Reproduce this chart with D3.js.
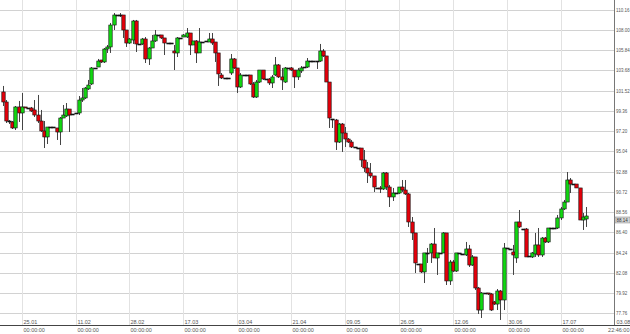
<!DOCTYPE html>
<html lang="en">

<head>
    <meta charset="UTF-8" />
    <title>Daily candles</title>
    <style>
        body {
            margin: 0;
            background: #fff;
        }

        svg {
            display: block;
            font-family: "Liberation Sans", Arial, sans-serif;
        }
    </style>
</head>

<body>
    <svg></svg>
    <script src="https://d3js.org/d3.v7.min.js"></script>
    <script>
        const width = 630;
        const height = 334;

        // tick labels
        const dateTicks = [6, 23, 40, 57, 74, 91, 108, 125, 142, 159, 176, 193];
        const dateLabels = ["25.01", "11.02", "28.02", "17.03", "03.04", "21.04", "09.05", "26.05", "12.06", "30.06", "17.07", "03.08"];
        const timeLabels = ["00:00:00", "00:00:00", "00:00:00", "00:00:00", "00:00:00", "00:00:00", "00:00:00", "00:00:00", "00:00:00", "00:00:00", "00:00:00", "22:46:00"];
        const priceTicks = [77.76, 79.92, 82.08, 84.24, 86.40, 88.56, 90.72, 92.88, 95.04, 97.20, 99.36, 101.52, 103.68, 105.84, 108.00, 110.16];

        // one candle per day
        const opens = [
            101.37, 100.30, 98.27, 98.17, 97.53, 99.77, 99.13, 99.77, 99.66, 99.66,
            99.45, 98.91, 98.27, 97.21, 96.57, 97.63, 97.63, 97.53, 97.10, 98.59,
            98.81, 99.55, 99.02, 99.13, 99.13, 100.51, 100.73, 101.69, 102.22, 103.93,
            104.03, 104.78, 104.57, 105.95, 106.17, 108.51, 109.58, 109.58, 109.58, 107.98,
            106.59, 106.91, 108.94, 106.49, 106.49, 107.02, 104.89, 106.06, 106.81, 107.45,
            107.45, 107.13, 106.59, 106.59, 105.74, 105.53, 107.13, 107.23, 107.23, 107.66,
            106.38, 106.81, 105.53, 106.70, 106.81, 106.70, 107.02, 106.70, 105.53, 103.18,
            102.86, 102.86, 103.39, 104.89, 103.93, 101.90, 103.18, 103.18, 103.18, 102.22,
            100.83, 102.43, 103.71, 102.75, 102.75, 102.33, 103.18, 104.25, 102.97, 102.43,
            103.93, 103.93, 103.71, 102.97, 103.61, 104.03, 104.03, 104.67, 104.67, 104.67,
            104.67, 105.74, 105.21, 102.43, 98.49, 98.38, 96.03, 97.95, 96.99, 96.35,
            96.03, 95.50, 95.39, 95.39, 94.11, 93.26, 92.73, 92.41, 91.13, 91.13,
            91.02, 92.73, 91.23, 90.17, 90.59, 90.59, 91.23, 90.91, 90.49, 87.50,
            86.33, 83.02, 83.02, 82.17, 84.20, 84.20, 85.15, 83.66, 84.20, 84.20,
            86.33, 81.21, 83.23, 82.27, 84.20, 84.09, 83.98, 84.62, 82.91, 83.77,
            80.46, 78.11, 79.93, 79.93, 79.82, 78.97, 78.75, 80.14, 79.18, 84.73,
            84.62, 84.30, 83.66, 87.50, 86.75, 86.75, 83.87, 83.77, 84.09, 85.05,
            83.98, 85.79, 85.37, 86.86, 86.86, 86.86, 87.93, 88.89, 89.63, 91.98,
            91.55, 91.55, 91.13, 87.71, 87.82
        ];
        const highs = [
            102.01, 100.51, 98.38, 98.27, 99.87, 100.41, 101.26, 99.77, 99.66, 99.77,
            100.51, 101.05, 99.45, 98.27, 97.63, 97.63, 97.63, 97.53, 98.70, 99.98,
            100.19, 99.55, 99.02, 99.13, 100.94, 101.79, 101.90, 102.65, 104.03, 103.93,
            104.89, 104.78, 106.06, 106.38, 108.73, 109.79, 109.58, 109.79, 109.58, 107.98,
            107.13, 109.05, 109.05, 106.49, 107.13, 107.23, 106.17, 107.45, 107.98, 107.45,
            107.45, 107.13, 106.59, 106.59, 106.38, 107.23, 107.13, 107.55, 108.19, 107.66,
            106.81, 106.91, 108.19, 106.70, 106.81, 107.66, 107.66, 106.70, 105.53, 103.39,
            102.86, 102.86, 105.42, 104.99, 103.93, 103.39, 103.18, 103.18, 103.18, 102.43,
            102.65, 103.71, 103.71, 102.75, 102.86, 103.18, 105.10, 104.35, 103.93, 104.03,
            103.93, 104.03, 103.71, 103.93, 104.14, 104.03, 104.99, 104.67, 104.67, 104.67,
            106.49, 105.95, 105.21, 102.43, 98.49, 98.49, 98.06, 98.06, 97.63, 96.46,
            96.25, 95.50, 95.39, 95.39, 95.18, 93.90, 93.79, 92.41, 91.13, 91.34,
            92.83, 92.83, 91.45, 91.13, 90.59, 91.23, 91.98, 91.98, 90.59, 88.03,
            86.33, 83.02, 83.02, 84.20, 84.73, 85.26, 86.86, 84.20, 84.20, 86.43,
            86.33, 83.45, 83.45, 84.20, 84.20, 84.09, 85.37, 85.05, 83.98, 83.77,
            80.57, 80.03, 79.93, 79.93, 79.93, 79.07, 80.35, 80.25, 85.26, 84.73,
            84.62, 85.05, 87.50, 88.78, 86.75, 86.86, 83.87, 84.30, 86.33, 86.86,
            85.90, 85.90, 86.86, 86.86, 86.86, 88.25, 89.10, 89.85, 92.83, 92.19,
            91.55, 91.55, 91.13, 88.46, 89.10
        ];
        const lows = [
            99.87, 98.06, 97.95, 97.42, 97.31, 98.17, 97.31, 99.66, 99.66, 99.23,
            98.70, 98.06, 97.10, 95.39, 95.82, 97.63, 97.63, 96.25, 95.71, 98.59,
            98.70, 97.10, 99.02, 99.13, 98.91, 100.30, 100.62, 101.58, 102.11, 103.93,
            104.03, 104.46, 104.46, 105.53, 105.53, 107.98, 109.58, 109.37, 107.13, 106.17,
            106.49, 106.49, 105.63, 106.49, 106.38, 104.46, 104.25, 106.06, 106.70, 107.45,
            107.02, 105.31, 106.59, 106.59, 103.71, 105.10, 107.13, 107.23, 107.13, 105.31,
            106.38, 104.46, 105.53, 106.70, 106.81, 106.70, 106.38, 104.57, 102.01, 102.75,
            102.86, 102.86, 103.18, 103.82, 101.26, 101.79, 103.18, 103.18, 102.11, 100.73,
            100.73, 102.33, 102.65, 102.75, 102.11, 101.79, 103.07, 102.86, 101.58, 102.33,
            103.93, 103.61, 101.79, 102.65, 103.39, 104.03, 103.93, 104.67, 104.67, 103.82,
            104.57, 105.10, 102.43, 97.53, 97.53, 95.18, 95.93, 94.97, 95.50, 95.93,
            95.39, 95.50, 95.39, 93.37, 92.83, 91.66, 92.19, 90.70, 91.13, 90.59,
            90.91, 90.91, 89.10, 89.74, 90.59, 90.49, 90.70, 90.38, 86.97, 85.58,
            82.06, 83.02, 82.06, 80.99, 83.13, 83.13, 83.66, 81.85, 84.20, 84.20,
            80.78, 80.78, 82.17, 82.17, 84.20, 84.09, 83.87, 82.70, 82.81, 80.25,
            77.69, 77.26, 79.93, 79.71, 78.01, 78.65, 78.11, 77.05, 78.11, 84.73,
            84.62, 81.85, 83.13, 86.86, 86.75, 83.77, 83.87, 83.66, 83.77, 83.77,
            83.77, 85.26, 85.26, 86.86, 86.86, 86.75, 87.71, 88.78, 89.63, 90.59,
            91.55, 91.13, 87.71, 86.65, 86.97
        ];
        const closes = [
            100.30, 98.27, 98.17, 97.53, 99.77, 99.13, 99.77, 99.66, 99.66, 99.34,
            98.91, 98.27, 97.21, 96.57, 97.63, 97.63, 97.63, 97.10, 98.59, 98.91,
            99.55, 98.91, 99.02, 99.13, 100.51, 100.73, 101.79, 102.11, 103.93, 103.93,
            104.67, 104.57, 105.95, 106.17, 108.51, 109.58, 109.58, 109.58, 107.98, 106.59,
            107.02, 108.94, 106.49, 106.49, 107.02, 104.89, 106.06, 106.81, 107.45, 107.45,
            107.13, 106.59, 106.59, 106.59, 105.53, 107.13, 107.13, 107.45, 107.66, 106.38,
            106.81, 105.53, 106.70, 106.70, 106.81, 107.02, 106.59, 105.53, 103.29, 102.86,
            102.86, 102.86, 104.89, 103.93, 101.90, 103.18, 103.18, 103.18, 102.22, 100.83,
            102.43, 103.71, 102.75, 102.75, 102.33, 102.97, 104.25, 102.97, 102.65, 103.93,
            103.93, 103.71, 102.97, 103.71, 103.93, 104.03, 104.67, 104.67, 104.67, 104.57,
            105.74, 105.21, 102.43, 98.59, 98.49, 96.03, 97.95, 96.99, 96.35, 96.03,
            95.50, 95.50, 95.39, 94.11, 93.26, 92.73, 92.41, 91.23, 91.13, 91.02,
            92.73, 91.23, 90.17, 90.59, 90.59, 91.23, 90.91, 90.49, 87.50, 86.33,
            83.13, 83.02, 82.17, 84.20, 84.20, 85.15, 83.66, 84.20, 84.20, 86.33,
            81.21, 83.23, 82.27, 84.20, 84.20, 84.09, 84.62, 82.91, 83.77, 80.46,
            78.11, 79.93, 79.93, 79.82, 78.11, 78.75, 80.14, 79.18, 84.73, 84.73,
            84.62, 83.98, 87.50, 86.97, 86.75, 83.77, 83.87, 84.20, 85.05, 83.98,
            85.79, 85.37, 86.86, 86.86, 86.86, 87.93, 88.89, 89.63, 91.98, 91.55,
            91.55, 91.13, 87.71, 88.03, 88.14
        ];

        const plotRight = 614.5;
        const plotBottom = 325.5;

        const svg = d3.select("svg")
            .attr("width", width)
            .attr("height", height);

        const xScale = d3.scaleLinear().domain([0, 193]).range([2.7, plotRight]);
        const yScale = d3.scaleLinear().domain([77.76, 110.16]).range([313.3, 9.55]);

        // grid
        svg.append("g")
            .selectAll("line")
            .data(priceTicks)
            .enter()
            .append("line")
            .attr("x1", 0)
            .attr("x2", plotRight)
            .attr("y1", d => Math.round(yScale(d)) + 0.5)
            .attr("y2", d => Math.round(yScale(d)) + 0.5)
            .attr("stroke", "#d2d2d2");

        svg.append("g")
            .selectAll("line")
            .data(dateTicks.slice(0, -1))
            .enter()
            .append("line")
            .attr("x1", d => Math.round(xScale(d)) + 0.5)
            .attr("x2", d => Math.round(xScale(d)) + 0.5)
            .attr("y1", 0)
            .attr("y2", plotBottom)
            .attr("stroke", "#e2e2e2");

        // candles
        const candles = d3.range(opens.length).map(i => ({
            i, o: opens[i], h: highs[i], l: lows[i], c: closes[i]
        }));

        const g = svg.append("g");

        g.selectAll("line.wick")
            .data(candles)
            .enter()
            .append("line")
            .attr("class", "wick")
            .attr("x1", d => Math.round(xScale(d.i)) + 0.5)
            .attr("x2", d => Math.round(xScale(d.i)) + 0.5)
            .attr("y1", d => yScale(d.h))
            .attr("y2", d => yScale(d.l))
            .attr("stroke", "#444");

        g.selectAll("rect.body")
            .data(candles)
            .enter()
            .append("rect")
            .attr("class", "body")
            .attr("x", d => Math.round(xScale(d.i)) - 1.2)
            .attr("width", 3.4)
            .attr("y", d => {
                const top = yScale(Math.max(d.o, d.c));
                const bot = yScale(Math.min(d.o, d.c));
                return bot - top < 1 ? Math.round(top) : top;
            })
            .attr("height", d => Math.max(1, yScale(Math.min(d.o, d.c)) - yScale(Math.max(d.o, d.c))))
            .attr("fill", d => {
                if (Math.abs(yScale(d.o) - yScale(d.c)) < 1) return "#111";
                return d.c > d.o ? "#12d612" : "#e3000b";
            })
            .attr("stroke", "#111")
            .attr("stroke-width", 0.6);

        // axes frame
        svg.append("line")
            .attr("x1", plotRight).attr("x2", plotRight)
            .attr("y1", 0).attr("y2", plotBottom)
            .attr("stroke", "#777");
        svg.append("line")
            .attr("x1", 0).attr("x2", width)
            .attr("y1", plotBottom).attr("y2", plotBottom)
            .attr("stroke", "#444");

        // price axis
        const yAxis = d3.axisRight(yScale)
            .tickValues(priceTicks)
            .tickSize(0)
            .tickPadding(1.5)
            .tickFormat(d3.format(".2f"));

        svg.append("g")
            .attr("transform", `translate(${plotRight},0)`)
            .call(yAxis)
            .call(a => a.select(".domain").remove())
            .selectAll("text")
            .attr("font-size", 4.5)
            .attr("fill", "#555")
            .attr("font-family", "Liberation Sans, Arial, sans-serif");

        // last price marker
        const last = closes[closes.length - 1];
        svg.append("rect")
            .attr("x", plotRight + 0.5)
            .attr("y", yScale(last) + 1)
            .attr("width", 15)
            .attr("height", 6)
            .attr("fill", "#d4d4d4")
            .attr("stroke", "#888")
            .attr("stroke-width", 0.5);
        svg.append("text")
            .attr("x", plotRight + 2)
            .attr("y", yScale(last) + 5.6)
            .attr("font-size", 4.5)
            .attr("fill", "#333")
            .text(d3.format(".2f")(last));

        // date axis, the last (current) stamp kept inside the frame
        const dates = svg.append("g");
        dateTicks.forEach((t, k) => {
            const lastTick = k === dateTicks.length - 1;
            const x = Math.round(xScale(t)) + 1.5;
            dates.append("text")
                .attr("x", x)
                .attr("y", plotBottom - 1.5)
                .attr("font-size", 5.5)
                .attr("fill", "#555")
                .text(dateLabels[k]);
            dates.append("text")
                .attr("x", lastTick ? width - 0.5 : x)
                .attr("y", plotBottom + 6.5)
                .attr("text-anchor", lastTick ? "end" : "start")
                .attr("font-size", 5.5)
                .attr("fill", "#555")
                .text(timeLabels[k]);
        });
    </script>
</body>

</html>
